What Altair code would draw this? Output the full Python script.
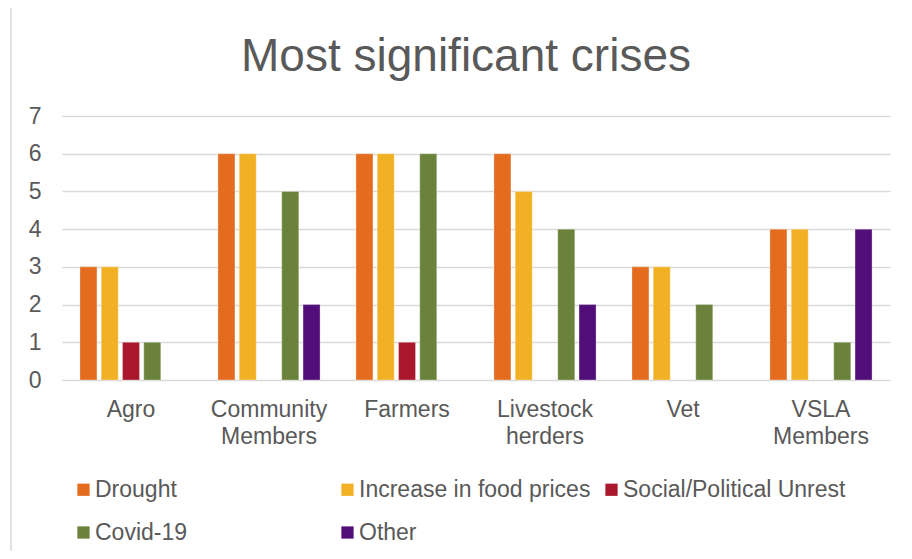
import altair as alt
import pandas as pd

title_text = "Most significant crises"
categories = ["Agro", "Community Members", "Farmers", "Livestock herders", "Vet", "VSLA Members"]
series = ["Drought", "Increase in food prices", "Social/Political Unrest", "Covid-19", "Other"]
drought = [3, 6, 6, 6, 3, 4]
food_prices = [3, 6, 6, 5, 3, 4]
unrest = [1, 0, 1, 0, 0, 0]
covid = [1, 5, 6, 4, 2, 1]
other = [0, 2, 0, 2, 0, 4]
colors = ["#E46C1F", "#F2B124", "#A9182C", "#6A823C", "#510E78"]

values = [drought, food_prices, unrest, covid, other]
rows = []
for s, vals in zip(series, values):
    for c, v in zip(categories, vals):
        rows.append({"category": c, "series": s, "value": v})
df = pd.DataFrame(rows)

TXT = "#595959"
FONT = "Liberation Sans"
FS = 23

bars = alt.Chart(df).transform_filter("datum.value > 0").mark_bar(
    stroke="#ffffff", strokeOpacity=0.5, strokeWidth=0.6
).encode(
    x=alt.X("category:N", sort=categories,
            scale=alt.Scale(paddingInner=0.26, paddingOuter=0.13),
            axis=alt.Axis(title=None, labelAngle=0, labelFontSize=FS, labelColor=TXT,
                          labelFont=FONT, ticks=False, domain=False, labelPadding=18,
                          labelExpr="split(datum.label, ' ')", labelLineHeight=27,
                          labelBaseline="top")),
    xOffset=alt.XOffset("series:N", sort=series,
                        scale=alt.Scale(domain=series, paddingInner=0.2, paddingOuter=0)),
    y=alt.Y("value:Q", scale=alt.Scale(domain=[0, 7]),
            axis=alt.Axis(title=None, values=list(range(8)), labelFontSize=FS,
                          labelColor=TXT, labelFont=FONT, ticks=False, domain=False,
                          labelPadding=21, gridColor="#d9d9d9", gridWidth=1.5)),
    color=alt.Color("series:N", sort=series,
                    scale=alt.Scale(domain=series, range=colors),
                    legend=alt.Legend(title=None, orient="none", legendX=10, legendY=362,
                                      columns=3, direction="horizontal", gridAlign="all",
                                      columnPadding=9, rowPadding=19,
                                      symbolType="square", symbolSize=150,
                                      symbolStrokeWidth=0, labelFontSize=FS,
                                      labelColor=TXT, labelFont=FONT, labelOffset=0,
                                      labelLimit=400)),
)

frame = alt.Chart(pd.DataFrame({"a": [0]})).mark_rect(
    fill=None, stroke="#d9d9d9", strokeWidth=1.5
).encode(x=alt.value(-51), x2=alt.value(1000), y=alt.value(-109), y2=alt.value(600))

title = alt.Chart(pd.DataFrame({"t": [title_text]})).mark_text(
    font=FONT, fontSize=46, color=TXT, align="center", baseline="alphabetic"
).encode(text="t:N", x=alt.value(404), y=alt.value(-45))

chart = alt.layer(frame, bars, title).properties(
    width=828, height=264,
    padding={"left": 54, "top": 108, "right": 14, "bottom": 171},
    autosize=alt.AutoSizeParams(type="none"),
    background="white",
).configure_view(stroke=None)

chart.save("out.html", embed_options={"renderer": "svg", "actions": False})
